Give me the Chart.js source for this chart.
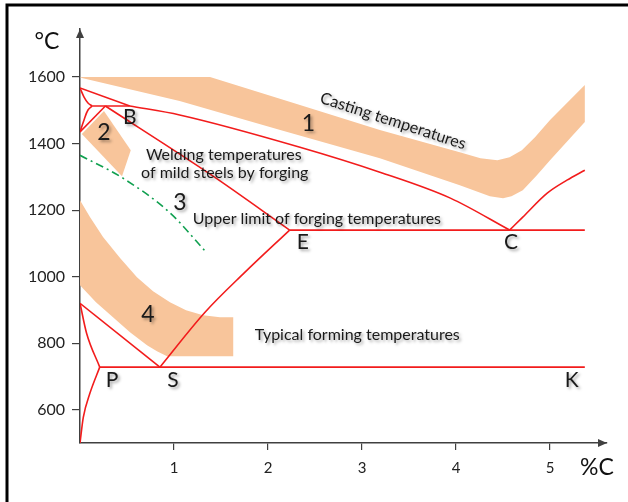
<!DOCTYPE html>
<html>
<head>
<meta charset="utf-8">
<script src="https://cdn.jsdelivr.net/npm/chart.js@4.4.0/dist/chart.umd.min.js"></script>
<style>
  html, body { margin: 0; padding: 0; background: #fff; }
  #wrap { position: relative; width: 628px; height: 502px; }
</style>
</head>
<body>
<div id="wrap"><canvas id="chart" width="628" height="502"></canvas></div>
<script>
// axis ticks
const xTicks = [1, 2, 3, 4, 5];
const yTicks = [600, 800, 1000, 1200, 1400, 1600];

// phase boundaries, [%C, °C]
const liquidusAB = [[0, 1567], [0.53, 1513]];
const liquidusBC = [[0.53, 1513], [1.06, 1486], [2.34, 1389], [3.19, 1314], [3.94, 1236], [4.57, 1140]];
const deltaAH = [[0, 1567], [0.043, 1540], [0.085, 1522], [0.13, 1513]];
const deltaHN = [[0.13, 1513], [0.085, 1501], [0.043, 1471], [0, 1435]];
const peritectic = [[0.13, 1513], [0.53, 1513]];
const lineJN = [[0, 1435], [0.27, 1513]];
const solidusJE = [[0.27, 1513], [1.40, 1305], [2.23, 1140]];
const eutectic = [[2.23, 1140], [5.37, 1140]];
const lineCD = [[4.57, 1140], [4.71, 1179], [4.97, 1251], [5.18, 1290], [5.37, 1320]];
const lineSE = [[0.85, 728], [1.33, 893], [1.75, 1012], [2.23, 1140]];
const lineGS = [[0, 920], [0.85, 728]];
const lineGP = [[0, 920], [0.07, 830], [0.21, 728]];
const lineQP = [[0, 500], [0.035, 577], [0.106, 650], [0.21, 728]];
const eutectoid = [[0.21, 728], [5.37, 728]];

// upper limit of forging (dash-dot)
const forgingLimit = [[0, 1365], [0.457, 1296], [0.96, 1191], [1.35, 1071]];

// temperature bands (closed outlines)
const castingBand = [
  [0, 1600], [1.383, 1600], [2.34, 1516], [3.19, 1441], [4.04, 1374], [4.26, 1356],
  [4.44, 1350], [4.57, 1359], [4.70, 1380], [4.84, 1419], [5.0, 1471], [5.37, 1576],
  [5.37, 1465], [5.0, 1350], [4.86, 1305], [4.71, 1260], [4.59, 1242], [4.5, 1236],
  [4.36, 1242], [4.04, 1275], [3.19, 1356], [2.13, 1441], [1.06, 1528], [0.02, 1597]
];
const weldingBand = [[0.02, 1429], [0.255, 1498], [0.54, 1380], [0.447, 1302]];
const formingBand = [
  [0, 1230], [0.106, 1179], [0.245, 1119], [0.426, 1056], [0.606, 998], [0.777, 956],
  [0.957, 923], [1.128, 899], [1.31, 884], [1.489, 878], [1.63, 878],
  [1.63, 761], [0.926, 761], [0.819, 776], [0.713, 794], [0.532, 833], [0.351, 878],
  [0.17, 923], [0, 974]
];

// text in the plot, positioned in data units
const textLabels = [
  { text: 'Casting temperatures', x: 3.33, y: 1468, size: 16.2, rot: 18 },
  { text: 'Welding temperatures', x: 1.53, y: 1365, size: 16 },
  { text: 'of mild steels by forging', x: 1.54, y: 1311, size: 16 },
  { text: 'Upper limit of forging temperatures', x: 2.52, y: 1173, size: 16 },
  { text: 'Typical forming temperatures', x: 2.95, y: 824, size: 16 },
  { text: '1', x: 2.43, y: 1459, size: 23 },
  { text: '2', x: 0.255, y: 1432, size: 23 },
  { text: '3', x: 1.064, y: 1224, size: 23 },
  { text: '4', x: 0.723, y: 887, size: 23 },
  { text: 'B', x: 0.53, y: 1480, size: 21 },
  { text: 'E', x: 2.37, y: 1104, size: 21 },
  { text: 'C', x: 4.585, y: 1104, size: 21 },
  { text: 'P', x: 0.34, y: 689, size: 21 },
  { text: 'S', x: 0.99, y: 689, size: 21 },
  { text: 'K', x: 5.23, y: 689, size: 21 }
];

const RED = '#f21c1c';
const BAND = '#f8c59b';
const AXIS = '#404040';
const FONT = 'Lato, "Open Sans", sans-serif';

const pts = arr => arr.map(([x, y]) => ({ x: x, y: y }));

function redLine(data, smooth) {
  return {
    data: pts(data), showLine: true, borderColor: RED, borderWidth: 1.6,
    pointRadius: 0, fill: false,
    cubicInterpolationMode: smooth ? 'monotone' : 'default', tension: smooth ? 0.4 : 0
  };
}

function band(data) {
  return {
    data: pts(data), showLine: true, borderWidth: 0, borderColor: BAND,
    backgroundColor: BAND, pointRadius: 0, fill: 'shape'
  };
}

const datasets = [
  redLine(liquidusAB),
  redLine(liquidusBC, true),
  Object.assign(redLine(deltaAH), { tension: 0.4 }),
  Object.assign(redLine(deltaHN), { tension: 0.4 }),
  redLine(peritectic),
  redLine(lineJN),
  redLine(solidusJE, true),
  redLine(eutectic),
  redLine(lineCD, true),
  redLine(lineSE, true),
  redLine(lineGS),
  redLine(lineGP, true),
  redLine(lineQP, true),
  redLine(eutectoid),
  {
    data: pts(forgingLimit), showLine: true, borderColor: '#10a050', borderWidth: 1.6,
    borderDash: [8, 4, 2, 4], pointRadius: 0, cubicInterpolationMode: 'monotone', fill: false
  },
  band(castingBand),
  band(weldingBand),
  band(formingBand)
];

const decorPlugin = {
  id: 'decor',
  beforeDraw(chart) {
    const ctx = chart.ctx;
    ctx.save();
    ctx.fillStyle = '#fff';
    ctx.fillRect(0, 0, chart.width, chart.height);
    // frame
    ctx.strokeStyle = '#000';
    ctx.lineWidth = 3;
    ctx.beginPath();
    ctx.moveTo(7, 502);
    ctx.lineTo(7, 5);
    ctx.lineTo(628, 5);
    ctx.stroke();
    ctx.restore();
  },
  afterDraw(chart) {
    const ctx = chart.ctx;
    const area = chart.chartArea;
    const xs = chart.scales.x, ys = chart.scales.y;
    ctx.save();
    // arrow heads
    ctx.fillStyle = AXIS;
    ctx.beginPath();
    ctx.moveTo(area.left, area.top);
    ctx.lineTo(area.left - 4, area.top + 9);
    ctx.lineTo(area.left + 4, area.top + 9);
    ctx.closePath();
    ctx.fill();
    ctx.beginPath();
    ctx.moveTo(area.right, area.bottom);
    ctx.lineTo(area.right - 9, area.bottom - 4);
    ctx.lineTo(area.right - 9, area.bottom + 4);
    ctx.closePath();
    ctx.fill();

    // unit labels
    ctx.fillStyle = '#111';
    ctx.textAlign = 'center';
    ctx.textBaseline = 'middle';
    ctx.font = '23px ' + FONT;
    ctx.fillText('°C', area.left - 33, area.top + 13);
    ctx.fillText('%C', area.right - 10, area.bottom + 25);

    // labels with soft shadow
    ctx.shadowColor = 'rgba(0,0,0,0.35)';
    ctx.shadowBlur = 3;
    ctx.shadowOffsetX = 2;
    ctx.shadowOffsetY = 2;
    ctx.fillStyle = '#1a1a1a';
    textLabels.forEach(l => {
      ctx.save();
      ctx.font = l.size + 'px ' + FONT;
      ctx.translate(xs.getPixelForValue(l.x), ys.getPixelForValue(l.y));
      if (l.rot) ctx.rotate(l.rot * Math.PI / 180);
      ctx.fillText(l.text, 0, 0);
      ctx.restore();
    });
    ctx.restore();
  }
};

new Chart(document.getElementById('chart'), {
  type: 'scatter',
  data: { datasets: datasets },
  plugins: [decorPlugin],
  options: {
    responsive: false,
    animation: false,
    events: [],
    layout: { padding: { top: 29, right: 21, left: 0, bottom: 0 } },
    plugins: { legend: { display: false }, tooltip: { enabled: false } },
    scales: {
      x: {
        type: 'linear', min: 0, max: 5.606,
        afterFit(scale) { scale.height = 59; },
        afterBuildTicks(scale) { scale.ticks = xTicks.map(v => ({ value: v })); },
        border: { display: true, color: AXIS, width: 1.5 },
        grid: { drawOnChartArea: false, drawTicks: true, tickLength: 7, color: AXIS, lineWidth: 1.2 },
        ticks: { padding: 9, color: '#222', font: { family: FONT, size: 15 }, callback: v => String(v) }
      },
      y: {
        type: 'linear', min: 500, max: 1744.4,
        afterFit(scale) { scale.width = 80; },
        afterBuildTicks(scale) { scale.ticks = yTicks.map(v => ({ value: v })); },
        border: { display: true, color: AXIS, width: 1.5 },
        grid: { drawOnChartArea: false, drawTicks: true, tickLength: 8, color: AXIS, lineWidth: 1.2 },
        ticks: { padding: 7, color: '#222', font: { family: FONT, size: 16 }, callback: v => String(v) }
      }
    }
  }
});
</script>
</body>
</html>
